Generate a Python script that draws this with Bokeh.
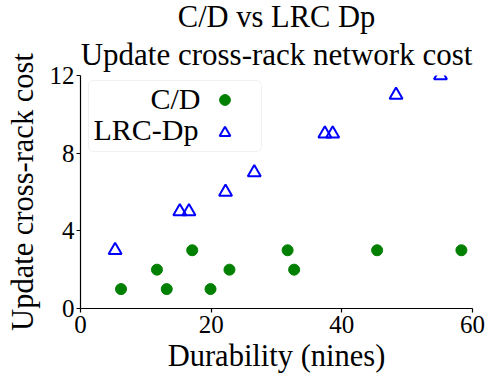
from bokeh.plotting import figure
from bokeh.models import (Range1d, FixedTicker, Legend, LegendItem, Label, BoxAnnotation, Title)
from bokeh.core.properties import value
from bokeh.embed import file_html
from bokeh.resources import INLINE

# Data
cd_x = [6.2, 11.7, 13.2, 17.1, 19.9, 22.8, 31.7, 32.7, 45.4, 58.3]
cd_y = [1, 2, 1, 3, 1, 2, 3, 2, 3, 3]
lrc_x = [5.3, 15.2, 16.6, 22.2, 26.6, 37.4, 38.6, 48.3, 55.1]
lrc_y = [3, 5, 5, 6, 7, 9, 9, 11, 12]
x_ticks = [0, 20, 40, 60]
y_ticks = [0, 4, 8, 12]
series_names = ["C/D", "LRC-Dp"]
title_lines = ["C/D vs LRC Dp", "Update cross-rack network cost"]

FONT = "Liberation Serif"
FW, FH = 392, 233

p = figure(width=486, height=375, output_backend="svg", toolbar_location=None,
           title=None,
           x_range=Range1d(0, 60), y_range=Range1d(0, 12),
           min_border_left=80, min_border_right=14, min_border_top=0, min_border_bottom=68,
           frame_width=FW, frame_height=FH)
p.outline_line_color = None
p.background_fill_color = "white"
p.border_fill_color = "white"
p.xgrid.visible = False
p.ygrid.visible = False

# two centred title lines: the first added sits nearest the frame
p.add_layout(Title(text=title_lines[1], align="center", text_font=FONT, text_font_size="31px",
                   text_font_style="normal", text_color="black", standoff=8), "above")
p.add_layout(Title(text=title_lines[0], align="center", text_font=FONT, text_font_size="30.5px",
                   text_font_style="normal", text_color="black", standoff=-6), "above")

for ax in (p.xaxis[0], p.yaxis[0]):
    ax.axis_line_color = "black"
    ax.axis_line_width = 1.2
    ax.major_tick_line_color = "black"
    ax.major_tick_line_width = 1.2
    ax.major_tick_out = 4
    ax.major_tick_in = 0
    ax.minor_tick_line_color = None
    ax.major_label_text_font = FONT
    ax.major_label_text_font_size = "25px"
    ax.major_label_text_color = "black"
    ax.axis_label_text_font = FONT
    ax.axis_label_text_font_size = "30.5px"
    ax.axis_label_text_font_style = "normal"
    ax.axis_label_text_color = "black"

p.xaxis.ticker = FixedTicker(ticks=x_ticks)
p.yaxis.ticker = FixedTicker(ticks=y_ticks)
p.xaxis.axis_label = "Durability (nines)"
p.yaxis.axis_label = "Update cross-rack cost"
p.xaxis.major_label_standoff = 3
p.xaxis.axis_label_standoff = 3
p.yaxis.major_label_standoff = 2
p.yaxis.axis_label_standoff = 7

r_cd = p.scatter(cd_x, cd_y, marker="circle", size=11, fill_color="green", line_color="green")
r_lrc = p.scatter(lrc_x, lrc_y, marker="triangle", size=13, fill_color=None,
                  line_color="blue", line_width=2)

# Legend frame (text on the left, markers on the right)
box = BoxAnnotation(left=8, right=181, top=228, bottom=157,
                    left_units="screen", right_units="screen",
                    top_units="screen", bottom_units="screen",
                    fill_color="white", fill_alpha=0.8, line_color="#cccccc",
                    line_width=1, border_radius=5, level="overlay")
p.add_layout(box)

legend = Legend(items=[LegendItem(label=value(""), renderers=[r_cd]),
                       LegendItem(label=value(""), renderers=[r_lrc])],
                location=(131, 162), orientation="vertical",
                glyph_width=27, glyph_height=27, spacing=6, padding=0, margin=0,
                label_width=0, label_height=0, label_standoff=0,
                label_text_font_size="1px",
                border_line_color=None, background_fill_alpha=0)
p.add_layout(legend)

for txt, sx, base in [(series_names[0], 120, 106.5), (series_names[1], 118, 137.5)]:
    p.add_layout(Label(x=sx, y=307 - base + 10, x_units="screen", y_units="screen", text=txt,
                       text_align="right", text_baseline="middle",
                       text_font=FONT, text_font_size="30px", text_color="black",
                       level="overlay"))

open("out.html", "w").write(file_html(p, INLINE))
